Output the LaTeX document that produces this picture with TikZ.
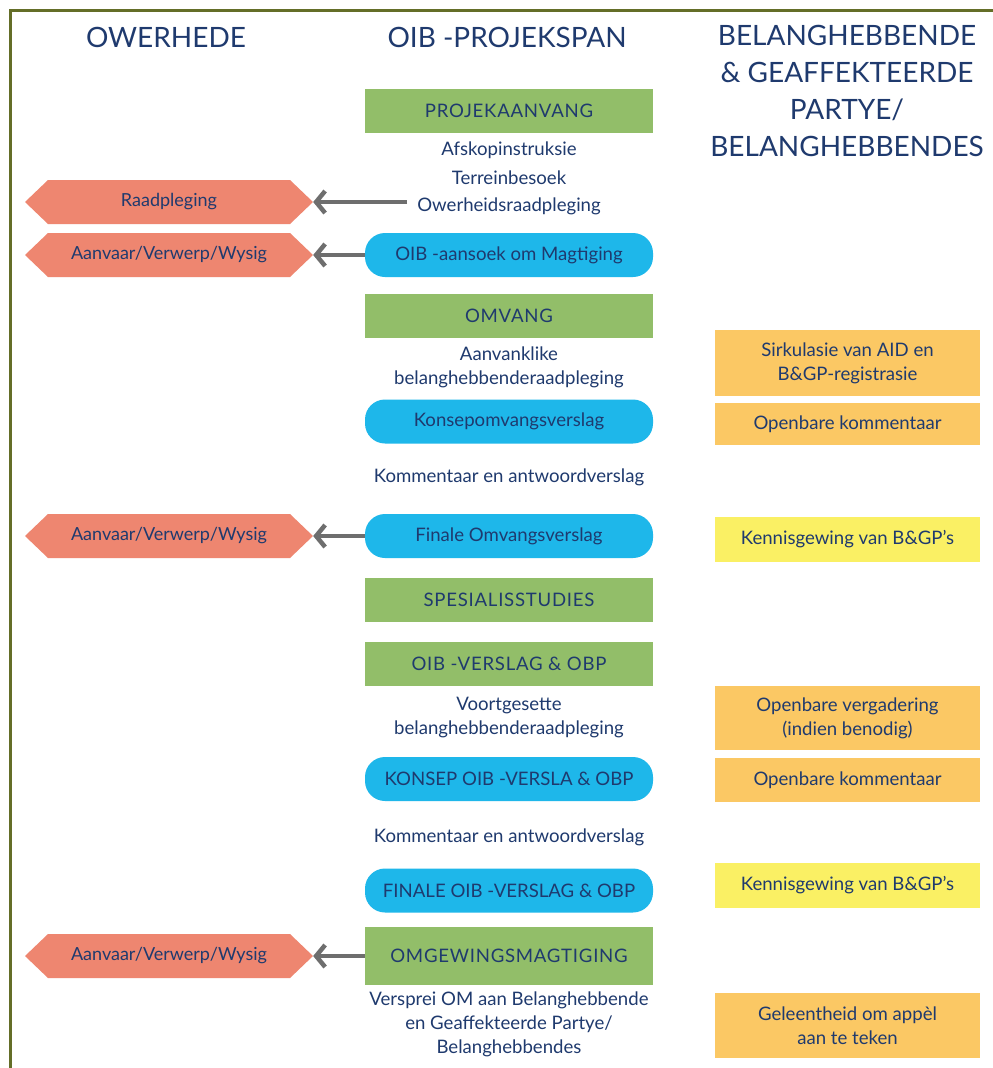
\documentclass[tikz,border=0pt]{standalone}
\usepackage{fontspec}
\setmainfont{Lato}
\newfontfamily\capsfont[LetterSpace=4]{Lato}
\usetikzlibrary{arrows.meta}
\definecolor{navy}{HTML}{1F3A6E}
\definecolor{cgreen}{HTML}{92BE69}
\definecolor{cblue}{HTML}{1EB7EA}
\definecolor{csalmon}{HTML}{EE8670}
\definecolor{corange}{HTML}{FBC864}
\definecolor{cyellow}{HTML}{FAF064}
\definecolor{cframe}{HTML}{646E28}
\definecolor{carrow}{HTML}{6E6E6E}
\tikzset{
  base/.style={text=navy, font=\fontsize{18.6}{24}\selectfont, inner sep=0pt, align=center},
  header/.style={text=navy, font=\fontsize{28}{37}\selectfont, align=center, inner sep=0pt},
  greenbox/.style={base, font=\capsfont\fontsize{18.6}{24}\selectfont, fill=cgreen, minimum width=288pt, minimum height=44pt},
  bluebox/.style={base, fill=cblue, rounded corners=20pt, minimum width=288pt, minimum height=44pt},
  sidebox/.style={base, minimum width=265pt},
  orangebox/.style={sidebox, fill=corange},
  yellowbox/.style={sidebox, fill=cyellow},
  hexbox/.style={base, font=\fontsize{18}{24}\selectfont, minimum width=288pt, minimum height=44pt,
    path picture={
      \fill[csalmon] (path picture bounding box.west)
        -- ([xshift=23pt]path picture bounding box.north west)
        -- ([xshift=-23pt]path picture bounding box.north east)
        -- (path picture bounding box.east)
        -- ([xshift=-23pt]path picture bounding box.south east)
        -- ([xshift=23pt]path picture bounding box.south west) -- cycle;}},
  txt/.style={base},
  arr/.style={draw=carrow, line width=4.5pt, -{Straight Barb[length=9pt,width=22pt]}},
  frameline/.style={draw=cframe, line width=3pt}
}
\begin{document}
\begin{tikzpicture}[x=1pt,y=-1pt]
\useasboundingbox (0,0) rectangle (993,1068);
\fill[white] (0,0) rectangle (993,1068);
\draw[frameline] (10,1068) -- (10,10) -- (993,10);

% headers
\node[header] (hA) at (166,37) {OWERHEDE};
\node[header] (hB) at (507,37) {OIB -PROJEKSPAN};
\node[header] (hC) at (847,90.5) {BELANGHEBBENDE\\\& GEAFFEKTEERDE\\PARTYE/\\BELANGHEBBENDES};

% middle column
\node[greenbox] (proj) at (509,111) {PROJEKAANVANG};
\node[txt] (afs) at (509,150) {Afskopinstruksie};
\node[txt] (ter) at (509,178) {Terreinbesoek};
\node[txt] (ow) at (509,206) {Owerheidsraadpleging};
\node[bluebox] (aans) at (509,255) {OIB -aansoek om Magtiging};
\node[greenbox] (omv) at (509,315.5) {OMVANG};
\node[txt] (aanv) at (509,367.5) {Aanvanklike\\belanghebbenderaadpleging};
\node[bluebox] (kons) at (509,421.5) {Konsepomvangsverslag};
\node[txt] (komm1) at (509,477) {Kommentaar en antwoordverslag};
\node[bluebox] (fin) at (509,536) {Finale Omvangsverslag};
\node[greenbox] (spes) at (509,599.5) {SPESIALISSTUDIES};
\node[greenbox] (oibv) at (509,664) {OIB -VERSLAG \& OBP};
\node[txt] (voort) at (509,717.5) {Voortgesette\\belanghebbenderaadpleging};
\node[bluebox] (kons2) at (509,779) {KONSEP OIB -VERSLA \& OBP};
\node[txt] (komm2) at (509,837) {Kommentaar en antwoordverslag};
\node[bluebox] (fin2) at (509,890.5) {FINALE OIB -VERSLAG \& OBP};
\node[greenbox, minimum height=58pt] (omg) at (509,956) {OMGEWINGSMAGTIGING};
\node[txt] (vers) at (509,1024) {Versprei OM aan Belanghebbende\\en Geaffekteerde Partye/\\Belanghebbendes};

% left column
\node[hexbox] (h1) at (169,202) {Raadpleging};
\node[hexbox] (h2) at (169,255) {Aanvaar/Verwerp/Wysig};
\node[hexbox] (h3) at (169,536) {Aanvaar/Verwerp/Wysig};
\node[hexbox] (h4) at (169,956) {Aanvaar/Verwerp/Wysig};

% right column
\node[orangebox, minimum height=66pt] (sirk) at (847.5,363) {Sirkulasie van AID en\\B\&GP-registrasie};
\node[orangebox, minimum height=42pt] (openb1) at (847.5,424) {Openbare kommentaar};
\node[yellowbox, minimum height=45pt] (kenn1) at (847.5,539.5) {Kennisgewing van B\&GP’s};
\node[orangebox, minimum height=64pt] (verg) at (847.5,718) {Openbare vergadering\\(indien benodig)};
\node[orangebox, minimum height=44pt] (openb2) at (847.5,780) {Openbare kommentaar};
\node[yellowbox, minimum height=45pt] (kenn2) at (847.5,885.5) {Kennisgewing van B\&GP’s};
\node[orangebox, minimum height=65pt] (gel) at (847.5,1025.5) {Geleentheid om appèl\\aan te teken};

% arrows
\draw[arr] ([xshift=-10pt]h1.east -| ow.west) -- (h1.east);
\draw[arr] (aans.west) -- (h2.east);
\draw[arr] (fin.west) -- (h3.east);
\draw[arr] (omg.west) -- (h4.east);
\end{tikzpicture}
\end{document}
